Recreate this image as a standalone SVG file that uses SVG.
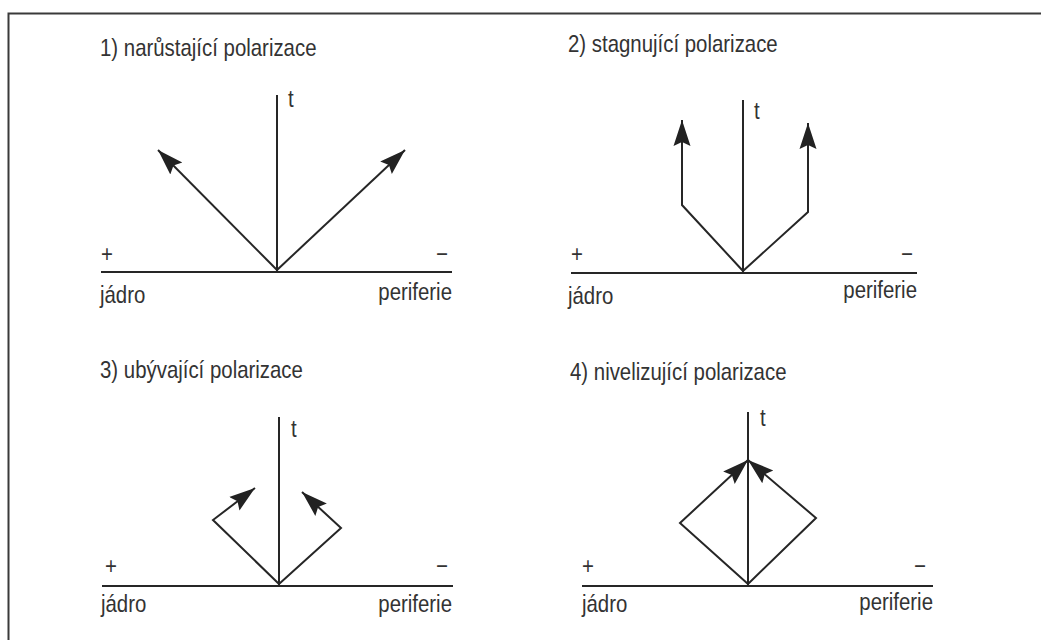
<svg xmlns="http://www.w3.org/2000/svg" width="1041" height="640" viewBox="0 0 1041 640">
  <defs>
    <marker id="ah" markerUnits="userSpaceOnUse" markerWidth="28" markerHeight="20" viewBox="0 0 28 20" refX="26" refY="10" orient="auto">
      <path d="M0,1.5 L26,10 L0,18.5 L4,10 Z" fill="#222"/>
    </marker>
    <style>
      .ln{stroke:#262626;stroke-width:2;fill:none;stroke-linejoin:miter}
      .ar{stroke:#262626;stroke-width:2;fill:none;marker-end:url(#ah)}
      text{font-family:"Liberation Sans",Arial,sans-serif;fill:#333;font-size:24px}
    </style>
  </defs>
  <rect width="1041" height="640" fill="#fff"/>
  <g id="frame">
    <path d="M8.5,640 V13.5 H1041" stroke="#3a3a3a" stroke-width="2" fill="none"/>
  </g>

  <g id="panel1">
    <text transform="translate(100,56) scale(0.85,1)">1) narůstající polarizace</text>
    <text transform="translate(288,107) scale(0.85,1)">t</text>
    <text transform="translate(101,262) scale(0.85,1)">+</text>
    <text transform="translate(436,262) scale(0.85,1)">−</text>
    <text transform="translate(100,303) scale(0.85,1)">jádro</text>
    <text transform="translate(452,300) scale(0.85,1)" text-anchor="end">periferie</text>
  </g>
  <g id="panel2">
    <text transform="translate(568,52) scale(0.85,1)">2) stagnující polarizace</text>
    <text transform="translate(754,119) scale(0.85,1)">t</text>
    <text transform="translate(571,262) scale(0.85,1)">+</text>
    <text transform="translate(901,262) scale(0.85,1)">−</text>
    <text transform="translate(568,304) scale(0.85,1)">jádro</text>
    <text transform="translate(917,298) scale(0.85,1)" text-anchor="end">periferie</text>
  </g>
  <g id="panel3">
    <text transform="translate(100,378) scale(0.85,1)">3) ubývající polarizace</text>
    <text transform="translate(291,437) scale(0.85,1)">t</text>
    <text transform="translate(105,574) scale(0.85,1)">+</text>
    <text transform="translate(436,574) scale(0.85,1)">−</text>
    <text transform="translate(101,612) scale(0.85,1)">jádro</text>
    <text transform="translate(452,612) scale(0.85,1)" text-anchor="end">periferie</text>
  </g>
  <g id="panel4">
    <text transform="translate(570,380) scale(0.85,1)">4) nivelizující polarizace</text>
    <text transform="translate(760,426) scale(0.85,1)">t</text>
    <text transform="translate(582,574) scale(0.85,1)">+</text>
    <text transform="translate(914,574) scale(0.85,1)">−</text>
    <text transform="translate(582,612) scale(0.85,1)">jádro</text>
    <text transform="translate(933,610) scale(0.85,1)" text-anchor="end">periferie</text>
  </g>

  <g id="connectors">
    <!-- panel 1 -->
    <line class="ln" x1="101" y1="272" x2="452" y2="272"/>
    <line class="ln" x1="277" y1="95" x2="277" y2="272"/>
    <line class="ar" x1="277" y1="270" x2="158" y2="150"/>
    <line class="ar" x1="277" y1="270" x2="405" y2="150"/>
    <!-- panel 2 -->
    <line class="ln" x1="571" y1="273" x2="917" y2="273"/>
    <line class="ln" x1="743" y1="100" x2="743" y2="273"/>
    <path class="ar" d="M743,271 L682,205 L682,120"/>
    <path class="ar" d="M743,271 L808,212 L808,123"/>
    <!-- panel 3 -->
    <line class="ln" x1="102" y1="586" x2="453" y2="586"/>
    <line class="ln" x1="279" y1="417" x2="279" y2="586"/>
    <path class="ar" d="M279,584 L213,520 L255,488"/>
    <path class="ar" d="M279,584 L341,528 L302,492"/>
    <!-- panel 4 -->
    <line class="ln" x1="582" y1="586" x2="933" y2="586"/>
    <line class="ln" x1="748" y1="412" x2="748" y2="586"/>
    <path class="ar" d="M748,584 L680,523 L748,460"/>
    <path class="ar" d="M748,584 L816,518 L748,460"/>
  </g>
</svg>
